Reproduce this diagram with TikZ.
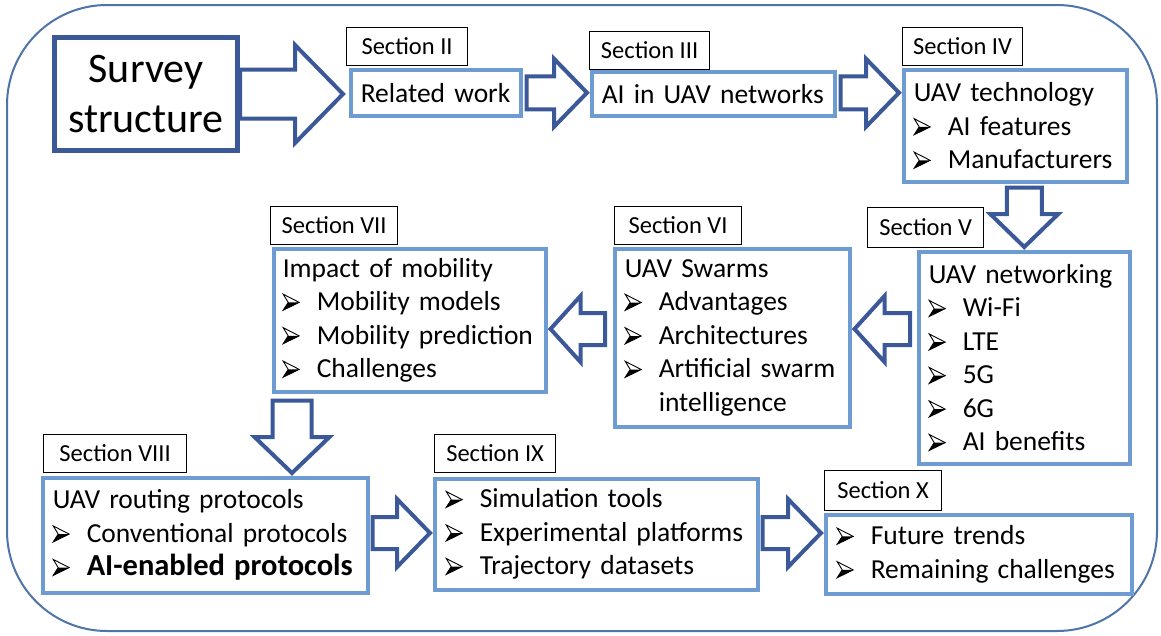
\documentclass[tikz,border=0pt]{standalone}
\usepackage{fontspec}
\setmainfont{Carlito}
\usetikzlibrary{calc}

\definecolor{darkblue}{RGB}{59,89,152}
\definecolor{boxblue}{RGB}{110,155,210}
\definecolor{frameblue}{RGB}{79,117,168}

% arrowhead bullet
\newcommand{\bul}{\tikz[baseline=0pt,x=1pt,y=1pt]{%
\draw[line width=0.9pt, line join=miter] (0,16.5) -- (16,8.3) -- (0,0.5) -- (5,8.3) -- cycle;
\fill (5,8.3) -- (16,8.3) -- (0,0.5) -- cycle;}}
\newcommand{\itm}{\makebox[34pt][l]{\bul}}

% hollow block arrow: start, tip, shaft half width, head half width, head length
\newcommand{\fatarrow}[5]{%
\coordinate (fa-s) at #1;
\coordinate (fa-t) at #2;
\coordinate (fa-b) at ($(fa-t)!#5!(fa-s)$);
\draw[fat] ($(fa-s)!#3!90:(fa-t)$) -- ($(fa-b)!#3!90:(fa-t)$) -- ($(fa-b)!#4!90:(fa-t)$) -- (fa-t)
 -- ($(fa-b)!#4!-90:(fa-t)$) -- ($(fa-b)!#3!-90:(fa-t)$) -- ($(fa-s)!#3!-90:(fa-t)$) -- cycle;}

\tikzset{
secbox/.style={draw=boxblue, line width=3.5pt, fill=white, anchor=north west, align=left,
 inner xsep=10pt, inner ysep=0pt, font=\fontsize{27.5}{33.5}\selectfont},
seclabel/.style={draw=black, line width=1.2pt, fill=white, anchor=north west,
 inner sep=0pt, minimum height=38pt, font=\fontsize{24.5}{28}\selectfont},
fat/.style={draw=darkblue, line width=4pt, fill=white, line join=miter},
}

\begin{document}
\begin{tikzpicture}
[x=1pt,y=-1pt]

\fill[white] (0,0) rectangle (1161,635);
\useasboundingbox (0,0) rectangle (1161,635);
\draw[frameblue, line width=2pt, rounded corners=100pt] (7,5) rectangle (1157,631); %frame

\node[draw=darkblue, line width=5pt, fill=white, anchor=north west, align=center,
 minimum width=183pt, minimum height=113pt, font=\fontsize{42}{50}\selectfont]
 (survey) at (52,35) {Survey\\structure};

% section labels
\node[seclabel, minimum width=121pt] (lab2) at (346,27) {Section II};
\node[seclabel, minimum width=120pt] (lab3) at (589,31) {Section III};
\node[seclabel, minimum width=120pt] (lab4) at (902,27) {Section IV};
\node[seclabel, minimum width=116pt, minimum height=40pt] (lab5) at (867,207) {Section V};
\node[seclabel, minimum width=127pt] (lab6) at (614,206) {Section VI};
\node[seclabel, minimum width=127pt] (lab7) at (270,206) {Section VII};
\node[seclabel, minimum width=143pt] (lab8) at (43,434) {Section VIII};
\node[seclabel, minimum width=121pt] (lab9) at (434,434) {Section IX};
\node[seclabel, minimum width=117pt, minimum height=40pt] (lab10) at (824,470) {Section X};

% section boxes
\node[secbox, minimum width=170pt, minimum height=46pt, text width=150pt] (relwork) at (349,68) {Related work};
\node[secbox, minimum width=243pt, minimum height=44pt, text width=223pt] (aiuav) at (590,70) {AI in UAV networks};
\node[secbox, minimum width=223pt, minimum height=112pt, text width=203pt] (tech) at (902,68)
 {UAV technology\\\itm AI features\\\itm Manufacturers};
\node[secbox, minimum width=211pt, minimum height=212pt, text width=191pt] (uavnet) at (917,250)
 {UAV networking\\\itm Wi-Fi\\\itm LTE\\\itm 5G\\\itm 6G\\\itm AI benefits};
\node[secbox, minimum width=235pt, minimum height=178pt, text width=215pt] (swarms) at (613,247)
 {UAV Swarms\\\itm Advantages\\\itm Architectures\\\itm Artificial swarm\\\hspace*{34pt}intelligence};
\node[secbox, minimum width=272pt, minimum height=143pt, text width=254pt, inner xsep=9pt] (impact) at (272,247)
 {Impact of mobility\\\itm Mobility models\\\itm Mobility prediction\\\itm Challenges};
\node[secbox, minimum width=325pt, minimum height=115pt, text width=305pt] (routing) at (41,476)
 {UAV routing protocols\\\itm Conventional protocols\\\itm {\fontsize{30.5}{33.5}\selectfont\bfseries AI-enabled protocols}};
\node[secbox, minimum width=323pt, minimum height=111pt, text width=301pt, inner xsep=11pt] (simbox) at (433,477)
 {\itm Simulation tools\\\itm Experimental platforms\\\itm Trajectory datasets};
\node[secbox, minimum width=306pt, minimum height=79pt, text width=284pt, inner xsep=11pt] (futbox) at (824,513)
 {\itm Future trends\\\itm Remaining challenges};

% arrows
\fatarrow{(survey.east)}{($(relwork.west |- survey.east)+(-6,0)$)}{24.5pt}{49pt}{48pt}
\fatarrow{($(relwork.east)+(4,0)$)}{($(aiuav.west |- relwork.east)+(-3,0)$)}{16.5pt}{34pt}{33pt}
\fatarrow{($(aiuav.east |- relwork.east)+(4,0)$)}{($(tech.west |- relwork.east)+(-3,0)$)}{16.5pt}{34pt}{33pt}
\fatarrow{($(tech.south -| uavnet.north)+(0,4)$)}{($(uavnet.north)+(0,-3)$)}{17.5pt}{34pt}{33pt}
\fatarrow{($(uavnet.west |- 0,329)+(-7,0)$)}{($(swarms.east |- 0,329)+(3,0)$)}{16pt}{33pt}{30pt}
\fatarrow{($(swarms.west |- 0,329)+(-8,0)$)}{($(impact.east |- 0,329)+(3,0)$)}{16pt}{33pt}{30pt}
\fatarrow{($(impact.south west)+(20,7)$)}{($(impact.south west |- routing.north)+(20,-3)$)}{19.5pt}{37.5pt}{36pt}
\fatarrow{($(routing.east |- 0,533)+(3,0)$)}{($(simbox.west |- 0,533)+(-3,0)$)}{16pt}{34pt}{33pt}
\fatarrow{($(simbox.east |- 0,533)+(3,0)$)}{($(futbox.west |- 0,533)+(-3,0)$)}{16pt}{34pt}{33pt}

\end{tikzpicture}
\end{document}
